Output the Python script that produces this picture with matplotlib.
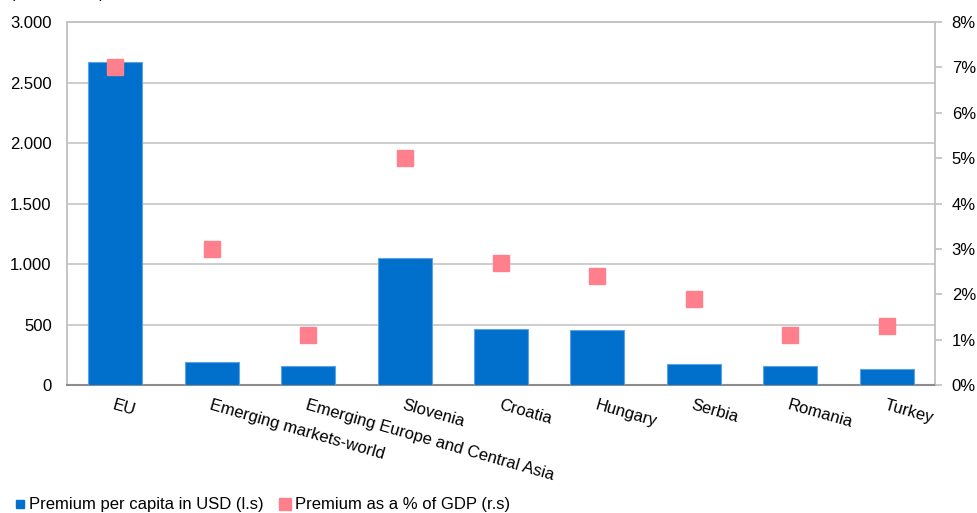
import matplotlib.pyplot as plt
import numpy as np
from matplotlib.ticker import FuncFormatter, MultipleLocator
from matplotlib.lines import Line2D

plt.rcParams['font.family'] = ['Liberation Sans', 'DejaVu Sans']

countries = ['EU', 'Emerging markets-world', 'Emerging Europe and Central Asia',
             'Slovenia', 'Croatia', 'Hungary', 'Serbia', 'Romania', 'Turkey']
premium_per_capita = [2670, 190, 160, 1050, 465, 452, 177, 160, 130]
premium_pct_gdp = [7.0, 3.0, 1.1, 5.0, 2.7, 2.4, 1.9, 1.1, 1.3]

bar_color = '#0070CC'
dot_color = '#FF808C'
grid_grey = '#C0C0C0'

fig = plt.figure(figsize=(9.78, 5.13), dpi=100)
ax = fig.add_axes([0.0685, 0.2495, 0.8875, 0.7075])
x = np.arange(len(countries))

ax.bar(x, premium_per_capita, width=0.56, color=bar_color,
       edgecolor='#5FA2E3', linewidth=0.8, zorder=3)
ax.set_xlim(-0.5, len(countries) - 0.5)
ax.set_ylim(0, 3000)
ax.yaxis.set_major_locator(MultipleLocator(500))
ax.yaxis.set_major_formatter(FuncFormatter(lambda v, p: f'{int(v):,}'.replace(',', '.')))
ax.grid(axis='y', color=grid_grey, linewidth=1.1, zorder=0)
ax.tick_params(axis='y', length=0, pad=11, labelsize=12)
ax.set_xticks(x)
ax.set_xticklabels(countries, rotation=-16, ha='left', va='top',
                   rotation_mode='anchor', fontsize=12)
ax.tick_params(axis='x', length=0, pad=9)

for side in ['top', 'left', 'right']:
    ax.spines[side].set_color(grid_grey)
    ax.spines[side].set_linewidth(1.3)
ax.spines['bottom'].set_color('#8C8C8C')
ax.spines['bottom'].set_linewidth(1.5)

ax2 = ax.twinx()
ax2.plot(x, premium_pct_gdp, linestyle='none', marker='s', markersize=12,
         color=dot_color, zorder=4)
ax2.set_ylim(0, 8)
ax2.yaxis.set_major_locator(MultipleLocator(1))
ax2.yaxis.set_major_formatter(FuncFormatter(lambda v, p: f'{int(v)}%'))
ax2.tick_params(axis='y', direction='out', length=5, width=1.2, color=grid_grey,
                pad=7, labelsize=12)
for side in ['top', 'left', 'right', 'bottom']:
    ax2.spines[side].set_visible(False)

# unit note sits at the very top edge of the figure
fig.text(0.01, 1.012, '(USD and %)', fontsize=11.5, va='center', ha='left')

handles = [
    Line2D([], [], linestyle='none', marker='s', markersize=5.5, color=bar_color),
    Line2D([], [], linestyle='none', marker='s', markersize=8.5, color=dot_color),
]
fig.legend(handles, ['Premium per capita in USD (l.s)', 'Premium as a % of GDP (r.s)'],
           loc='lower left', bbox_to_anchor=(0.0, -0.028), ncol=2, frameon=False,
           fontsize=12, handlelength=0.6, handletextpad=0.25, columnspacing=1.0)

fig.savefig('out.png', dpi=100)
